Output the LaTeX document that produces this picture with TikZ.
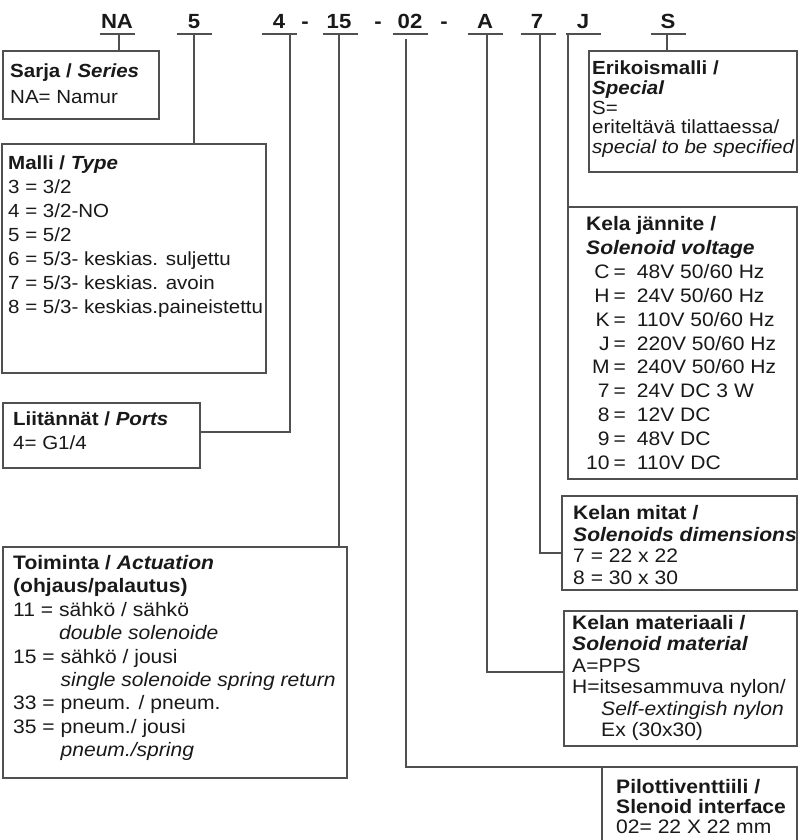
\documentclass[tikz,border=0pt]{standalone}
\usepackage{fontspec}
\setmainfont{Liberation Sans}[FakeStretch=1.08]
\usetikzlibrary{calc}
\definecolor{linegray}{RGB}{80,80,80}
\definecolor{txt}{RGB}{25,25,25}
\begin{document}
\begin{tikzpicture}[x=1pt,y=-1pt,
  boxshape/.style={draw=linegray, line width=1.2pt, inner sep=0pt, outer sep=0pt, anchor=north west},
  conn/.style={draw=linegray, line width=1.2pt},
  codelbl/.style={font=\fontsize{20.5}{23}\selectfont\bfseries, anchor=base, inner sep=0pt, text=txt},
  txtblk/.style={anchor=base west, inner sep=0pt, text=txt, font=\fontsize{19}{#1}\selectfont},
]
\fill[white] (0,0) rectangle (810,840);
\useasboundingbox (0,0) rectangle (810,840);

% code row
\node[codelbl] (cNA) at (117,28.5) {NA};
\node[codelbl] (c5)  at (194,28.5) {5};
\node[codelbl] (c4)  at (279,28.5) {4};
\node[codelbl] (d1)  at (305,28.5) {-};
\node[codelbl] (c15) at (339,28.5) {15};
\node[codelbl] (d2)  at (378,28.5) {-};
\node[codelbl] (c02) at (410,28.5) {02};
\node[codelbl] (d3)  at (444,28.5) {-};
\node[codelbl] (cA)  at (485,28.5) {A};
\node[codelbl] (c7)  at (537,28.5) {7};
\node[codelbl] (cJ)  at (583,28.5) {J};
\node[codelbl] (cS)  at (668,28.5) {S};

\foreach \n/\x in {NA/117,5/194,4/279,15/340,02/410,A/485,7/538,J/583.5,S/668.5}{
  \draw[conn] (\x-17.5,34) -- (\x+17.5,34);
}
\coordinate (uNA) at (119,34);
\coordinate (u5)  at (194,34);
\coordinate (u4)  at (290,34);
\coordinate (u15) at (339,34);
\coordinate (u02) at (406,39);
\coordinate (uA)  at (487,34);
\coordinate (u7)  at (540,34);
\coordinate (uJ)  at (568,34);
\coordinate (uS)  at (667,34);

% boxes
\node[boxshape, minimum width=156pt, minimum height=68pt]  (sarja) at (3,51) {};
\node[boxshape, minimum width=264pt, minimum height=229pt] (malli) at (2,144) {};
\node[boxshape, minimum width=197pt, minimum height=65pt]  (liit)  at (3,403) {};
\node[boxshape, minimum width=344pt, minimum height=231pt] (toim)  at (3,547) {};
\node[boxshape, minimum width=208pt, minimum height=121pt] (erik)  at (589,51) {};
\node[boxshape, minimum width=229pt, minimum height=272pt] (kela)  at (568,207) {};
\node[boxshape, minimum width=235pt, minimum height=94pt]  (kmit)  at (562,496) {};
\node[boxshape, minimum width=233pt, minimum height=135pt] (kmat)  at (564,611) {};
\node[boxshape, draw=none, minimum width=195pt, minimum height=74pt] (pilot) at (602,767) {};
\draw[conn] (pilot.south west) -- (pilot.north west) -- (pilot.north east) -- (pilot.south east);

% connectors
\draw[conn] (uNA) -- (uNA |- sarja.north);
\draw[conn] (u5) -- (u5 |- malli.north);
\draw[conn] (u4) |- ([yshift=3.5pt]liit.east);
\draw[conn] (u15) -- (u15 |- toim.north);
\draw[conn] (u02) |- (pilot.north west);
\draw[conn] (uA) |- ([yshift=6.5pt]kmat.west);
\draw[conn] (u7) |- ([yshift=-10pt]kmit.west);
\draw[conn] (uJ) -- (kela.north west);
\draw[conn] (uS) -- (uS |- erik.north);

% texts
\node[txtblk=26] (tSarja) at (10,77.5) {\begin{tabular}[t]{@{}l@{}}\textbf{Sarja / \textit{Series}}\\ NA= Namur\end{tabular}};

\node[txtblk=24] (tMalli) at (8,169.5) {\begin{tabular}[t]{@{}l@{}}\textbf{Malli / \textit{Type}}\\ 3 = 3/2\\ 4 = 3/2-NO\\ 5 = 5/2\\ 6 = 5/3- keskias. suljettu\\ 7 = 5/3- keskias. avoin\\ 8 = 5/3- keskias.paineistettu\end{tabular}};

\node[txtblk=24] (tLiit) at (13,425.5) {\begin{tabular}[t]{@{}l@{}}\textbf{Liitännät / \textit{Ports}}\\ 4= G1/4\end{tabular}};

\node[txtblk=23.4, font=\fontsize{19.5}{23.4}\selectfont] (tToim) at (13,569.5) {\begin{tabular}[t]{@{}l@{}}\textbf{Toiminta / \textit{Actuation}}\\ \textbf{(ohjaus/palautus)}\\ 11 = sähkö / sähkö\\ \phantom{11 = }\textit{double solenoide}\\ 15 = sähkö / jousi\\ \phantom{15 = }\textit{single solenoide spring return}\\ 33 = pneum. / pneum.\\ 35 = pneum./ jousi\\ \phantom{35 = }\textit{pneum./spring}\end{tabular}};

\node[txtblk=19.8] (tErik) at (592,74.5) {\begin{tabular}[t]{@{}l@{}}\textbf{Erikoismalli /}\\ \textbf{\textit{Special}}\\ S=\\ eriteltävä tilattaessa/\\ \textit{special to be specified}\end{tabular}};

\node[txtblk=23.9, font=\fontsize{19.5}{23.9}\selectfont] (tKela) at (586,230.5) {\begin{tabular}[t]{@{}r@{\hspace{4pt}=\hspace{11pt}}l@{}}\multicolumn{2}{@{}l@{}}{\textbf{Kela jännite /}}\\ \multicolumn{2}{@{}l@{}}{\textbf{\textit{Solenoid voltage}}}\\ C & 48V 50/60 Hz\\ H & 24V 50/60 Hz\\ K & 110V 50/60 Hz\\ J & 220V 50/60 Hz\\ M & 240V 50/60 Hz\\ 7 & 24V DC 3 W\\ 8 & 12V DC\\ 9 & 48V DC\\ 10 & 110V DC\end{tabular}};

\node[txtblk=21.7, font=\fontsize{19.5}{21.7}\selectfont] (tKmit) at (573,519.5) {\begin{tabular}[t]{@{}l@{}}\textbf{Kelan mitat /}\\ \textbf{\textit{Solenoids dimensions}}\\ 7 = 22 x 22\\ 8 = 30 x 30\end{tabular}};

\node[txtblk=21.4, font=\fontsize{19.5}{21.4}\selectfont] (tKmat) at (572,629.5) {\begin{tabular}[t]{@{}l@{}}\textbf{Kelan materiaali /}\\ \textbf{\textit{Solenoid material}}\\ A=PPS\\ H=itsesammuva nylon/\\ \hspace{29pt}\textit{Self-extingish nylon}\\ \hspace{29pt}Ex (30x30)\end{tabular}};

\node[txtblk=20, font=\fontsize{19.5}{20}\selectfont] (tPilot) at (616,793.5) {\begin{tabular}[t]{@{}l@{}}\textbf{Pilottiventtiili /}\\ \textbf{Slenoid interface}\\ 02= 22 X 22 mm\end{tabular}};
\end{tikzpicture}
\end{document}
